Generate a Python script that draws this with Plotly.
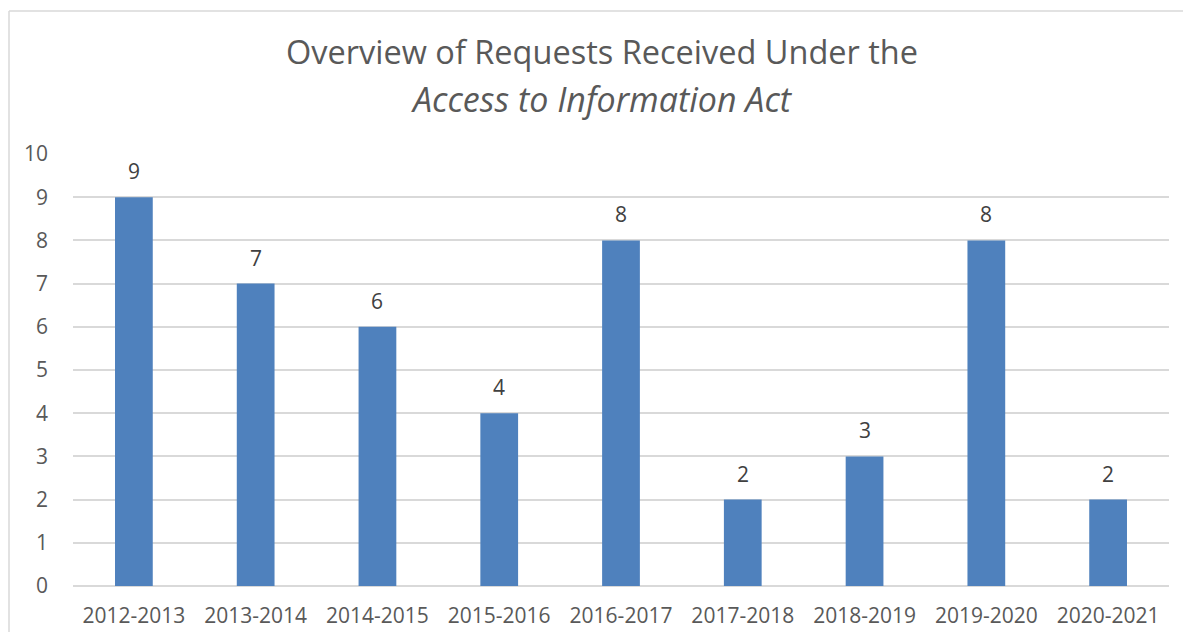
import plotly.graph_objects as go

categories = ["2012-2013", "2013-2014", "2014-2015", "2015-2016", "2016-2017",
              "2017-2018", "2018-2019", "2019-2020", "2020-2021"]
requests = [9, 7, 6, 4, 8, 2, 3, 8, 2]
y_ticks = list(range(0, 11))
title_line1 = "Overview of Requests Received Under the"
title_line2 = "<i>Access to Information Act</i>"

# page body has an 8px margin; keep the figure inside the window (no scrollbars)
W, H = 1175, 624
L, R, T, B = 65, 14, 146, 46
pw, ph = W - L - R, H - T - B

fig = go.Figure()
fig.add_trace(go.Bar(
    x=categories, y=requests,
    marker=dict(color="#4F81BD", line=dict(width=0)),
    hoverinfo="x+y",
))

for c, v in zip(categories, requests):
    fig.add_annotation(x=c, y=v, text=str(v), showarrow=False,
                       yanchor="bottom", yshift=10,
                       font=dict(family="Open Sans", size=21, color="#404040"))

def px_x(p):
    return (p - L) / pw

def px_y(p):
    return (H - B - p) / ph

for txt, yc, sz in ((title_line1, 44, 32.5), (title_line2, 91, 34)):
    fig.add_annotation(
        xref="paper", yref="paper", x=px_x(594), y=px_y(yc),
        text=txt, showarrow=False, xanchor="center", yanchor="middle",
        font=dict(family="Open Sans", size=sz, color="#595959"),
    )

# chart-area border (only left and top edges are visible in the reference)
border = dict(color="#D9D9D9", width=1.5)
fig.add_shape(type="line", xref="paper", yref="paper",
              x0=px_x(1), x1=px_x(1), y0=px_y(700), y1=px_y(3), line=border)
fig.add_shape(type="line", xref="paper", yref="paper",
              x0=px_x(1), x1=px_x(1300), y0=px_y(3), y1=px_y(3), line=border)

fig.update_layout(
    width=W, height=H,
    margin=dict(l=L, r=R, t=T, b=B, pad=0),
    paper_bgcolor="white", plot_bgcolor="white",
    bargap=0.69,
    showlegend=False,
    font=dict(family="Open Sans", color="#595959"),
    xaxis=dict(showgrid=False, showline=False, ticks="", automargin=False,
               tickfont=dict(size=21, color="#595959"),
               ticklabelstandoff=15, fixedrange=True),
    yaxis=dict(range=[0, 10], tickvals=y_ticks, showgrid=True, automargin=False,
               gridcolor="#D9D9D9", gridwidth=1.5,
               zeroline=True, zerolinecolor="#D9D9D9", zerolinewidth=1.5,
               showline=False, ticks="",
               tickfont=dict(size=21, color="#595959"),
               ticklabelstandoff=24, fixedrange=True),
)

fig.write_html("out.html")
